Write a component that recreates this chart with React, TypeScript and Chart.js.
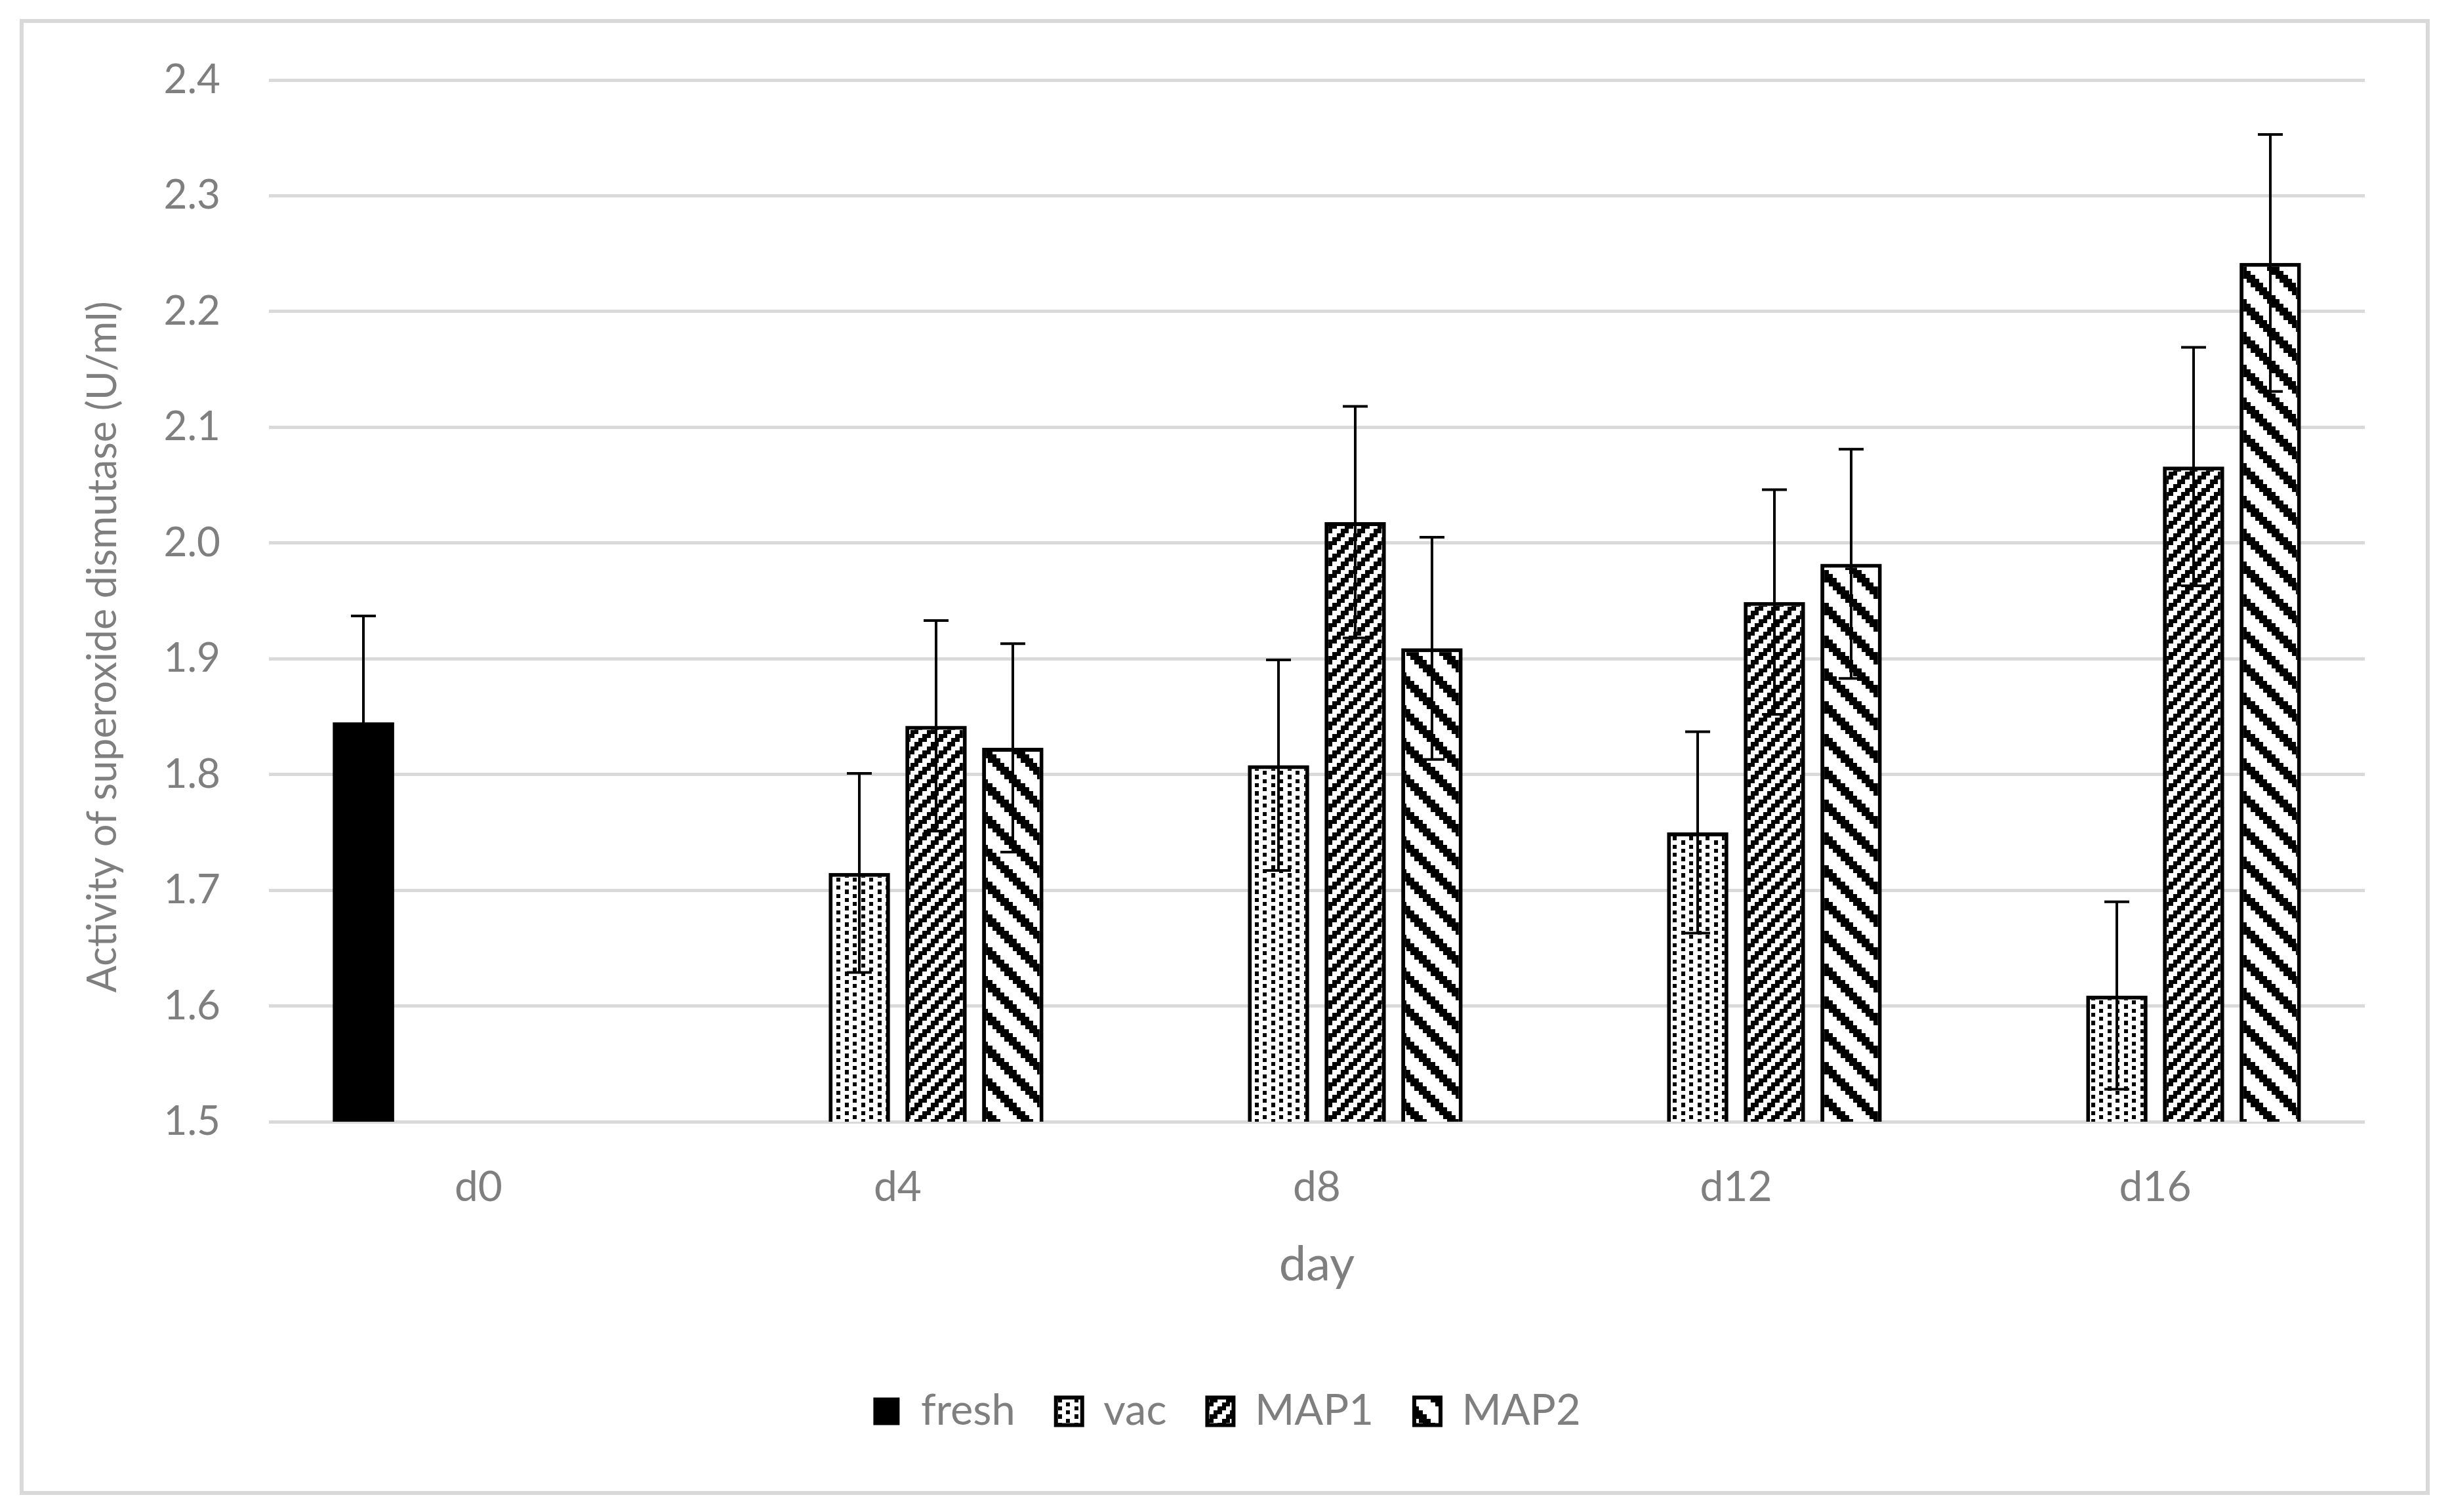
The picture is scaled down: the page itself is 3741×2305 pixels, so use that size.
import React, { useEffect, useRef } from 'react';
import { Chart, registerables } from 'chart.js';

Chart.register(...registerables);

const categories = ['d0', 'd4', 'd8', 'd12', 'd16'];
const seriesNames = ['fresh', 'vac', 'MAP1', 'MAP2'];

const freshValues = [1.845, null, null, null, null];
const vacValues = [null, 1.715, 1.808, 1.75, 1.609];
const map1Values = [null, 1.842, 2.018, 1.949, 2.066];
const map2Values = [null, 1.823, 1.909, 1.982, 2.242];

const freshErrors = [0.092, null, null, null, null];
const vacErrors = [null, 0.086, 0.091, 0.087, 0.081];
const map1Errors = [null, 0.091, 0.1, 0.097, 0.103];
const map2Errors = [null, 0.09, 0.096, 0.099, 0.111];

const yMin = 1.5;
const yMax = 2.4;
const yStep = 0.1;

const xTitle = 'day';
const yTitle = 'Activity of superoxide dismutase (U/ml)';
// trailing spaces shift the centred, rotated title slightly downward (as in the reference)
const yTitleShift = '         ';

const TEXT = '#7f7f7f';
const GRID = '#d9d9d9';

function makePattern(kind: string): CanvasPattern | string {
  const p = 6.25;
  const cells = kind === 'map2' ? 8 : 4;
  const size = Math.round(p * cells);
  const c = document.createElement('canvas');
  c.width = size;
  c.height = size;
  const g = c.getContext('2d');
  if (!g) return '#000';
  g.fillStyle = '#ffffff';
  g.fillRect(0, 0, size, size);
  g.fillStyle = '#000000';
  for (let y = 0; y < cells; y++) {
    for (let x = 0; x < cells; x++) {
      let on = false;
      if (kind === 'vac') on = (x % 4 === 0 && y % 2 === 0) || (x % 4 === 2 && y % 2 === 1);
      if (kind === 'map1') on = (x + y) % 4 === 0 || (x + y) % 4 === 1;
      if (kind === 'map2') {
        const d = (((x - y) % 8) + 8) % 8;
        on = d <= 2;
      }
      if (on) {
        const x0 = Math.round(x * p);
        const x1 = Math.round((x + 1) * p);
        const y0 = Math.round(y * p);
        const y1 = Math.round((y + 1) * p);
        g.fillRect(x0, y0, x1 - x0, y1 - y0);
      }
    }
  }
  const pat = g.createPattern(c, 'repeat');
  return pat || '#000';
}

const errorLists = [freshErrors, vacErrors, map1Errors, map2Errors];

const frameAndErrors = {
  id: 'frameAndErrors',
  beforeDraw(chart: any) {
    const ctx = chart.ctx;
    ctx.save();
    ctx.fillStyle = '#ffffff';
    ctx.fillRect(0, 0, chart.width, chart.height);
    ctx.strokeStyle = GRID;
    ctx.lineWidth = 6;
    ctx.strokeRect(33, 32, 3668, 2244);
    ctx.restore();
  },
  afterDatasetsDraw(chart: any) {
    const ctx = chart.ctx;
    const yScale = chart.scales.y;
    ctx.save();
    ctx.strokeStyle = '#000000';
    ctx.lineWidth = 4;
    chart.data.datasets.forEach((ds: any, i: number) => {
      const meta = chart.getDatasetMeta(i);
      const errs = errorLists[i];
      ds.data.forEach((v: number | null, j: number) => {
        const e = errs[j];
        if (v === null || e === null || e === undefined) return;
        const bar = meta.data[j];
        if (!bar) return;
        const x = Math.round(bar.x);
        const yt = yScale.getPixelForValue(v + e);
        const yb = yScale.getPixelForValue(v - e);
        const half = 19;
        ctx.beginPath();
        ctx.moveTo(x, yt);
        ctx.lineTo(x, yb);
        ctx.moveTo(x - half, yt);
        ctx.lineTo(x + half, yt);
        ctx.moveTo(x - half, yb);
        ctx.lineTo(x + half, yb);
        ctx.stroke();
      });
    });
    ctx.restore();
  },
};

export default function App() {
  const ref = useRef<HTMLCanvasElement | null>(null);

  useEffect(() => {
    let chart: any = null;
    let cancelled = false;
    const build = () => {
      if (cancelled || !ref.current) return;
      Chart.defaults.font.family = 'Lato';
      Chart.defaults.color = TEXT;
      const patVac = makePattern('vac');
      const patMap1 = makePattern('map1');
      const patMap2 = makePattern('map2');
      chart = new Chart(ref.current, {
        type: 'bar',
        data: {
          labels: categories,
          datasets: [
            {
              label: seriesNames[0],
              data: freshValues,
              backgroundColor: '#000000',
              borderColor: '#000000',
              borderWidth: 0,
            },
            {
              label: seriesNames[1],
              data: vacValues,
              backgroundColor: patVac,
              borderColor: '#000000',
              borderWidth: 6,
            },
            {
              label: seriesNames[2],
              data: map1Values,
              backgroundColor: patMap1,
              borderColor: '#000000',
              borderWidth: 6,
            },
            {
              label: seriesNames[3],
              data: map2Values,
              backgroundColor: patMap2,
              borderColor: '#000000',
              borderWidth: 6,
            },
          ],
        } as any,
        options: {
          responsive: false,
          animation: false,
          devicePixelRatio: 1,
          categoryPercentage: 0.732,
          barPercentage: 0.8,
          layout: { padding: { left: 136, right: 136, top: 122, bottom: 111 } },
          plugins: {
            tooltip: { enabled: false },
            legend: {
              position: 'bottom',
              labels: {
                color: TEXT,
                font: { family: 'Lato', size: 65 },
                boxWidth: 40,
                boxHeight: 42,
                padding: 62,
              },
            },
          },
          scales: {
            x: {
              grid: { display: false, drawTicks: false },
              border: { display: false },
              ticks: { color: TEXT, font: { family: 'Lato', size: 64 }, padding: 62 },
              title: {
                display: true,
                text: xTitle,
                color: TEXT,
                font: { family: 'Lato', size: 74 },
                padding: { top: 0, bottom: 84 },
              },
              afterFit: (s: any) => {
                s.height = 347;
              },
            },
            y: {
              min: yMin,
              max: yMax,
              grid: { color: GRID, lineWidth: 5, drawTicks: false },
              border: { display: false },
              ticks: {
                stepSize: yStep,
                color: TEXT,
                font: { family: 'Lato', size: 62 },
                padding: 74,
                callback: (v: any) => Number(v).toFixed(1),
              },
              title: {
                display: true,
                text: yTitle + yTitleShift,
                color: TEXT,
                font: { family: 'Lato', size: 61 },
                padding: { top: -15, bottom: 0 },
              },
              afterFit: (s: any) => {
                s.width = 274;
              },
            },
          },
        } as any,
        plugins: [frameAndErrors],
      });
    };
    const fontsApi = (document as any).fonts;
    if (fontsApi && fontsApi.load) {
      Promise.all([fontsApi.load('64px Lato')]).then(build, build);
    } else {
      build();
    }
    return () => {
      cancelled = true;
      if (chart) chart.destroy();
    };
  }, []);

  return (
    <div style={{ position: 'absolute', left: 0, top: 0, width: 3741, height: 2305 }}>
      <canvas ref={ref} width={3741} height={2305} style={{ display: 'block', width: 3741, height: 2305 }} />
    </div>
  );
}
